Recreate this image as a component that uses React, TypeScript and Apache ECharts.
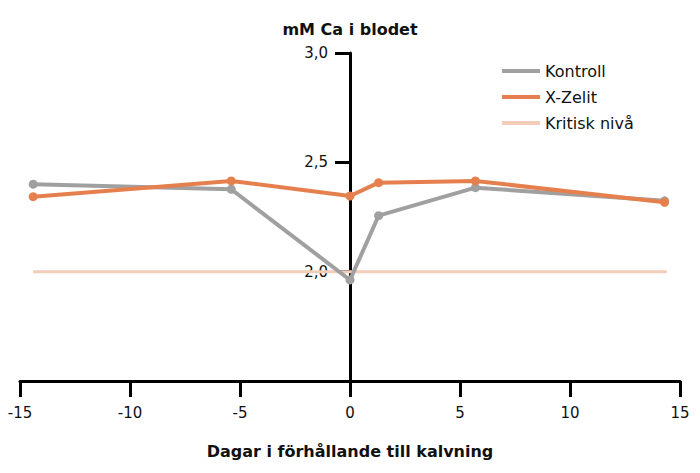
import React, { useEffect, useRef } from "react";
import * as echarts from "echarts";

const days = [-14.4, -5.4, 0, 1.3, 5.7, 14.3];
const kontroll = [2.40, 2.377, 1.962, 2.256, 2.384, 2.324];
const xzelit = [2.343, 2.415, 2.346, 2.407, 2.415, 2.317];
const kritiskX = [-14.4, 14.4];
const kritiskY = [2.0, 2.0];
const seriesNames = ["Kontroll", "X-Zelit", "Kritisk nivå"];
const title = "mM Ca i blodet";
const xName = "Dagar i förhållande till kalvning";

const FONT = "'DejaVu Sans', sans-serif";

export default function App() {
  const ref = useRef<HTMLDivElement>(null);
  useEffect(() => {
    if (!ref.current) return;
    const chart = echarts.init(ref.current, null, { renderer: "svg" });
    const zip = (xs: number[], ys: number[]) => xs.map((x, i) => [x, ys[i]]);
    chart.setOption({
      animation: false,
      textStyle: { fontFamily: FONT },
      title: {
        text: title,
        left: "center",
        top: 16,
        textStyle: { fontFamily: FONT, fontSize: 16, fontWeight: "bold", color: "#111" },
      },
      legend: {
        left: 497,
        top: 58,
        orient: "vertical",
        itemWidth: 38,
        itemHeight: 4,
        itemGap: 10,
        icon: "rect",
        textStyle: { fontFamily: FONT, fontSize: 16, color: "#111" },
        data: seriesNames,
      },
      grid: { left: 20, right: 20, top: 53, bottom: 92, outerBoundsMode: "none", containLabel: false },
      xAxis: {
        type: "value",
        min: -15,
        max: 15,
        interval: 5,
        name: xName,
        nameLocation: "middle",
        nameGap: 62,
        nameTextStyle: { fontFamily: FONT, fontSize: 16, fontWeight: "bold", color: "#111" },
        axisLine: { onZero: false, lineStyle: { color: "#000", width: 3 } },
        axisTick: { length: 16, lineStyle: { color: "#000", width: 3 } },
        axisLabel: { fontFamily: FONT, fontSize: 15, color: "#111", margin: 24 },
        splitLine: { show: false },
      },
      yAxis: {
        type: "value",
        min: 1.5,
        max: 3.0,
        interval: 0.5,
        offset: -330,
        axisLine: { onZero: false, lineStyle: { color: "#000", width: 3 } },
        axisTick: { length: 15, lineStyle: { color: "#000", width: 3 } },
        axisLabel: {
          fontFamily: FONT,
          fontSize: 15,
          color: "#111",
          margin: 22,
          formatter: (v: number) => (v < 1.9 ? "" : v.toFixed(1).replace(".", ",")),
        },
        splitLine: { show: false },
      },
      series: [
        {
          name: seriesNames[2],
          type: "line",
          data: zip(kritiskX, kritiskY),
          showSymbol: false,
          symbol: "none",
          lineStyle: { color: "#f2cdb9", width: 3 },
          itemStyle: { color: "#f2cdb9" },
          z: 1,
        },
        {
          name: seriesNames[0],
          type: "line",
          data: zip(days, kontroll),
          symbol: "circle",
          symbolSize: 9,
          lineStyle: { color: "#a0a0a0", width: 4 },
          itemStyle: { color: "#a0a0a0" },
          z: 2,
        },
        {
          name: seriesNames[1],
          type: "line",
          data: zip(days, xzelit),
          symbol: "circle",
          symbolSize: 9,
          lineStyle: { color: "#e5804e", width: 4 },
          itemStyle: { color: "#e5804e" },
          z: 3,
        },
      ],
    });
    return () => chart.dispose();
  }, []);
  return <div ref={ref} style={{ width: 700, height: 473, position: "absolute", left: 0, top: 0 }} />;
}
